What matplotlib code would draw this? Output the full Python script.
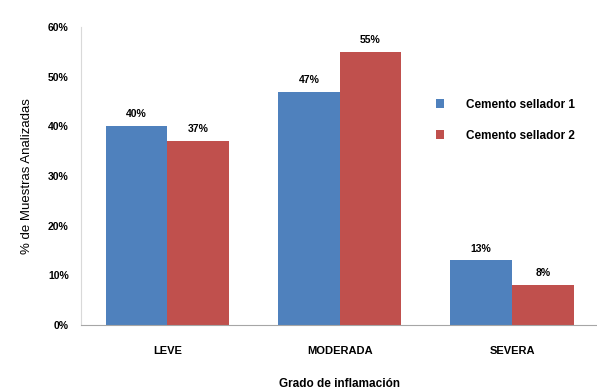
import matplotlib.pyplot as plt
import numpy as np
from matplotlib.ticker import PercentFormatter

# Grado de inflamacion data
categorias = ['LEVE', 'MODERADA', 'SEVERA']
sellador_1 = [40, 47, 13]
sellador_2 = [37, 55, 8]
yticks = [0, 10, 20, 30, 40, 50, 60]

azul = '#4F81BD'
rojo = '#C0504D'

plt.rcParams['font.family'] = ['Liberation Sans', 'DejaVu Sans']

fig = plt.figure(figsize=(5.97, 3.89), dpi=100, facecolor='w')
ax = fig.add_axes([0.136, 0.1645, 0.866, 0.766])

x = np.arange(len(categorias))
w = 0.358
b1 = ax.bar(x - w/2, sellador_1, w, color=azul, label='Cemento sellador 1')
b2 = ax.bar(x + w/2, sellador_2, w, color=rojo, label='Cemento sellador 2')

# value labels above bars
for bars, vals in [(b1, sellador_1), (b2, sellador_2)]:
    for r, v in zip(bars, vals):
        ax.annotate(f'{v}%', (r.get_x() + r.get_width()/2, v),
                    xytext=(0, 5), textcoords='offset points',
                    ha='center', va='bottom', fontsize=7.5, fontweight='bold')

ax.set_xlim(-0.5, 2.5)
ax.set_ylim(0, 60)
ax.set_yticks(yticks)
ax.yaxis.set_major_formatter(PercentFormatter(decimals=0))
ax.set_xticks(x)
ax.set_xticklabels(categorias)
ax.tick_params(axis='y', labelsize=7.5, length=0, pad=9)
ax.tick_params(axis='x', labelsize=8, length=0, pad=15)
for lbl in ax.get_xticklabels() + ax.get_yticklabels():
    lbl.set_fontweight('bold')

for s in ['top', 'right']:
    ax.spines[s].set_visible(False)
ax.spines['left'].set_color('#d9d9d9')
ax.spines['bottom'].set_color('#a6a6a6')

ax.set_ylabel('% de Muestras Analizadas', fontsize=9.5, labelpad=11)
ax.set_xlabel('Grado de inflamación', fontsize=8.5, fontweight='bold', labelpad=16)

ax.legend(loc='upper left', bbox_to_anchor=(0.665, 0.795), frameon=False,
          prop={'weight': 'bold', 'size': 8.5},
          handlelength=0.75, handleheight=0.75, labelspacing=1.6, handletextpad=1.8)

fig.savefig('out.png', dpi=100)
